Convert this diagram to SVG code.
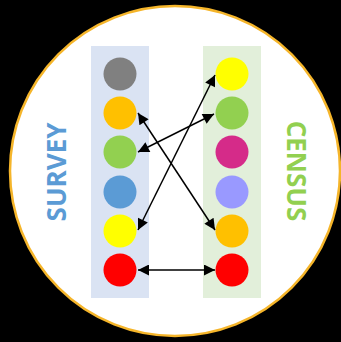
<svg xmlns="http://www.w3.org/2000/svg" width="341" height="342" viewBox="0 0 341 342">
<defs>
<marker id="ah" viewBox="0 0 10 10" refX="10" refY="5" markerWidth="14" markerHeight="11" markerUnits="userSpaceOnUse" orient="auto-start-reverse">
<path d="M0,0 L10,5 L0,10 z" fill="#000"/>
</marker>
<style>
.dot{stroke:none}
.conn line{stroke:#000;stroke-width:1.5;marker-start:url(#ah);marker-end:url(#ah)}
.lbl{font-family:"Open Sans","DejaVu Sans",sans-serif;font-weight:bold;font-size:26px;text-anchor:middle}
</style>
</defs>
<rect width="341" height="342" fill="#000"/>
<circle cx="175" cy="171" r="165" fill="#fff" stroke="#F5B52A" stroke-width="2.5"/>
<g id="survey-panel">
<rect x="91" y="46" width="58" height="252" fill="#DAE3F3"/>
<text class="lbl" fill="#5B9BD5" transform="translate(66,172) rotate(-90)">SURVEY</text>
</g>
<g id="census-panel">
<rect x="203" y="46" width="58" height="252" fill="#E2EFDA"/>
<text class="lbl" fill="#92D050" transform="translate(287,171) rotate(90)">CENSUS</text>
</g>
<g id="s1"><circle class="dot" cx="120" cy="74" r="16.5" fill="#808080"/></g>
<g id="s2"><circle class="dot" cx="120" cy="113" r="16.5" fill="#FFC000"/></g>
<g id="s3"><circle class="dot" cx="120" cy="152" r="16.5" fill="#92D050"/></g>
<g id="s4"><circle class="dot" cx="120" cy="192" r="16.5" fill="#5B9BD5"/></g>
<g id="s5"><circle class="dot" cx="120" cy="231" r="16.5" fill="#FFFF00"/></g>
<g id="s6"><circle class="dot" cx="120" cy="270" r="16.5" fill="#FF0000"/></g>
<g id="c1"><circle class="dot" cx="232" cy="74" r="16.5" fill="#FFFF00"/></g>
<g id="c2"><circle class="dot" cx="232" cy="113" r="16.5" fill="#92D050"/></g>
<g id="c3"><circle class="dot" cx="232" cy="152" r="16.5" fill="#D52B89"/></g>
<g id="c4"><circle class="dot" cx="232" cy="192" r="16.5" fill="#9999FF"/></g>
<g id="c5"><circle class="dot" cx="232" cy="231" r="16.5" fill="#FFC000"/></g>
<g id="c6"><circle class="dot" cx="232" cy="270" r="16.5" fill="#FF0000"/></g>
<g class="conn" id="connectors">
<line x1="138" y1="113" x2="215" y2="230"/>
<line x1="138" y1="152" x2="214" y2="114"/>
<line x1="138" y1="230" x2="215" y2="75"/>
<line x1="138" y1="270" x2="215" y2="270"/>
</g>
</svg>
